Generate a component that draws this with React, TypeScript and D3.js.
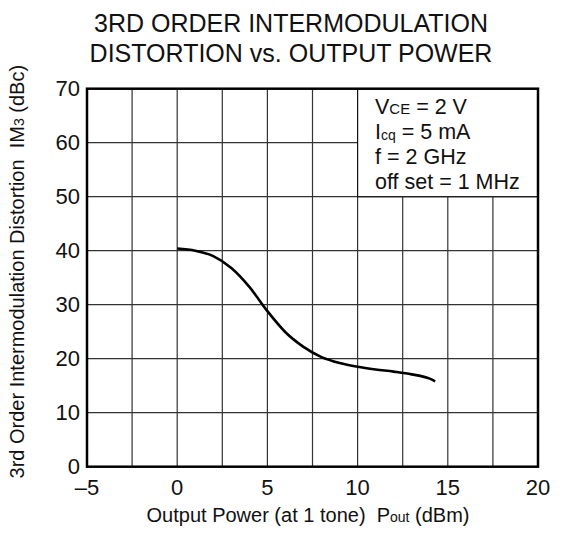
import React from "react";
import * as d3 from "d3";

const titleLines = ["3RD ORDER INTERMODULATION", "DISTORTION vs. OUTPUT POWER"];
const xTicks = [-5, 0, 5, 10, 15, 20];
const xGrid = [-2.5, 0, 2.5, 5, 7.5, 10, 12.5, 15, 17.5];
const yTicks = [0, 10, 20, 30, 40, 50, 60, 70];
const pout = [0, 1, 2, 3, 4, 5, 6, 7, 8, 9, 10, 11, 12, 13, 14, 14.3];
const im3 = [40.4, 40.0, 39.0, 36.8, 33.3, 28.8, 24.9, 22.2, 20.3, 19.2, 18.5, 18.0, 17.6, 17.1, 16.3, 15.8];

const W = 562, H = 545;
const L = 87, R = 538, T = 88.7, B = 466.7;
const FONT = "'Liberation Sans', Arial, sans-serif";
const SP = "\u00a0";

export default function App() {
  const x = d3.scaleLinear().domain([-5, 20]).range([L, R]);
  const y = d3.scaleLinear().domain([0, 70]).range([B, T]);
  const line = d3.line<number>().x((_, i) => x(pout[i])).y((d) => y(d)).curve(d3.curveMonotoneX);
  const boxX0 = x(10), boxY1 = y(50);
  return (
    <svg width={W} height={H} style={{ display: "block", position: "absolute", left: 0, top: 0, background: "#fff" }} fontFamily={FONT}>
      <rect width={W} height={H} fill="#fff" />
      {titleLines.map((t, i) => (
        <text key={t} x={291} y={32 + i * 30} textAnchor="middle" fontSize={25} fill="#111">{t}</text>
      ))}
      {xGrid.map((v) => (
        <line key={"gx" + v} x1={x(v)} x2={x(v)} y1={T} y2={B} stroke="#333" strokeWidth={1.2} />
      ))}
      {yTicks.slice(1, -1).map((v) => (
        <line key={"gy" + v} x1={L} x2={R} y1={y(v)} y2={y(v)} stroke="#333" strokeWidth={1.2} />
      ))}
      <rect x={boxX0} y={T} width={R - boxX0} height={boxY1 - T} fill="#fff" stroke="#111" strokeWidth={1.2} />
      <g fontSize={21.5} fill="#111">
        <text x={375} y={114}>V<tspan fontSize={15}>CE</tspan> = 2 V</text>
        <text x={375} y={139}>I<tspan fontSize={14} dy={1}>cq</tspan><tspan dy={-1}> = 5 mA</tspan></text>
        <text x={375} y={164}>f = 2 GHz</text>
        <text x={375} y={189}>off set = 1 MHz</text>
      </g>
      <path d={line(im3) || ""} fill="none" stroke="#000" strokeWidth={2.6} />
      <rect x={L} y={T} width={R - L} height={B - T} fill="none" stroke="#000" strokeWidth={2.5} />
      {yTicks.map((v) => (
        <text key={"ty" + v} x={80} y={y(v) + 7.5} textAnchor="end" fontSize={22} fill="#111">{v}</text>
      ))}
      {xTicks.map((v) => (
        <text key={"tx" + v} x={x(v)} y={495} textAnchor="middle" fontSize={22} fill="#111">{v < 0 ? "\u2013" + Math.abs(v) : v}</text>
      ))}
      <text x={308} y={522} textAnchor="middle" fontSize={20} fill="#111">
        {`Output Power (at 1 tone)${SP}${SP}P`}<tspan fontSize={14}>out</tspan>{`${SP}(dBm)`}
      </text>
      <text transform={`translate(24,${(T + B) / 2 - 6}) rotate(-90)`} textAnchor="middle" fontSize={20} fill="#111">
        {`3rd Order Intermodulation Distortion${SP}${SP}IM`}<tspan fontSize={14}>3</tspan>{`${SP}(dBc)`}
      </text>
    </svg>
  );
}
